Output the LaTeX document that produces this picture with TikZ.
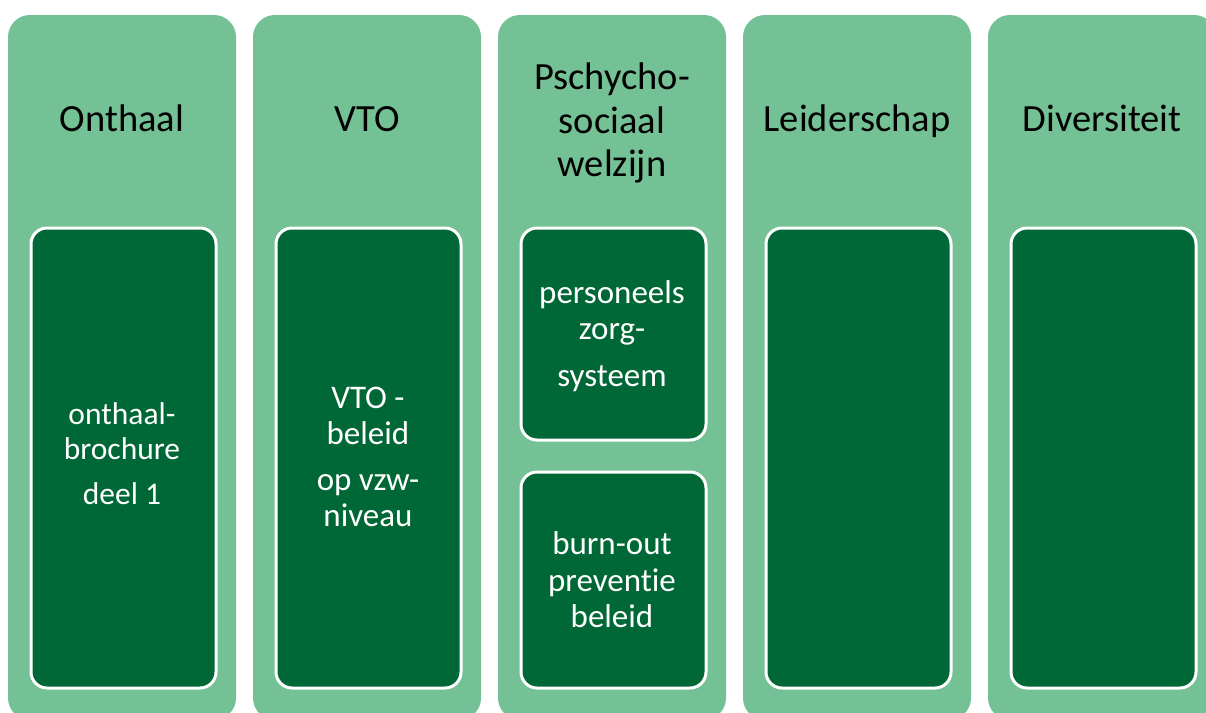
\documentclass[tikz,border=0pt]{standalone}
\usepackage{fontspec}
\setmainfont{Carlito}[Ligatures=NoCommon]
\definecolor{lightgrn}{HTML}{74C195}
\definecolor{darkgrn}{HTML}{006837}

\begin{document}
\begin{tikzpicture}[x=1pt,y=-1pt,
      column/.style={fill=lightgrn,rounded corners=22pt},
      itembox/.style={fill=darkgrn,draw=white,line width=3pt,rounded corners=16pt},
      head/.style={font=\fontsize{38.5}{43.5}\selectfont,align=center,text=black},
      itemtext/.style={font=\fontsize{33}{36.5}\selectfont,align=center,text=white,inner sep=0pt}]
      \useasboundingbox (0,0) rectangle (1206,712) ;
      % columns and their boxes
      \foreach \i in {0,...,4}
        \fill[column] (8+245*\i,15) rectangle ++(228,705) ;
      \foreach \i in {0,1,3,4}
        \draw[itembox] (31+245*\i,228) rectangle ++(185,460) ;
      \draw[itembox] (521,228) rectangle (706,440) ;
      \draw[itembox] (521,472) rectangle (706,688) ;
      % headers
      \node[head,anchor=base] (onthaal) at (122,131) {Onthaal} ;
      \node[head,anchor=base] (vto) at (367,131) {VTO} ;
      \node[head] (psycho) at (612,123) {Pschycho-\\sociaal\\welzijn} ;
      \node[head,anchor=base] (leider) at (857,131) {Leiderschap} ;
      \node[head,anchor=base] (divers) at (1102,131) {Diversiteit} ;
      % texts in the boxes
      \node[itemtext,font=\fontsize{31.5}{34.5}\selectfont] (brochure) at (122,454) %
        {onthaal-\\brochure\\[11pt]deel 1} ;
      \node[itemtext] (vtobeleid) at (368,457) {VTO -\\beleid\\[9pt]op vzw-\\niveau} ;
      \node[itemtext] (zorg) at (612,336) {personeels\\zorg-\\[10pt]systeem} ;
      \node[itemtext] (burnout) at (612,580) {burn-out\\preventie\\beleid} ;
    \end{tikzpicture}
\end{document}
